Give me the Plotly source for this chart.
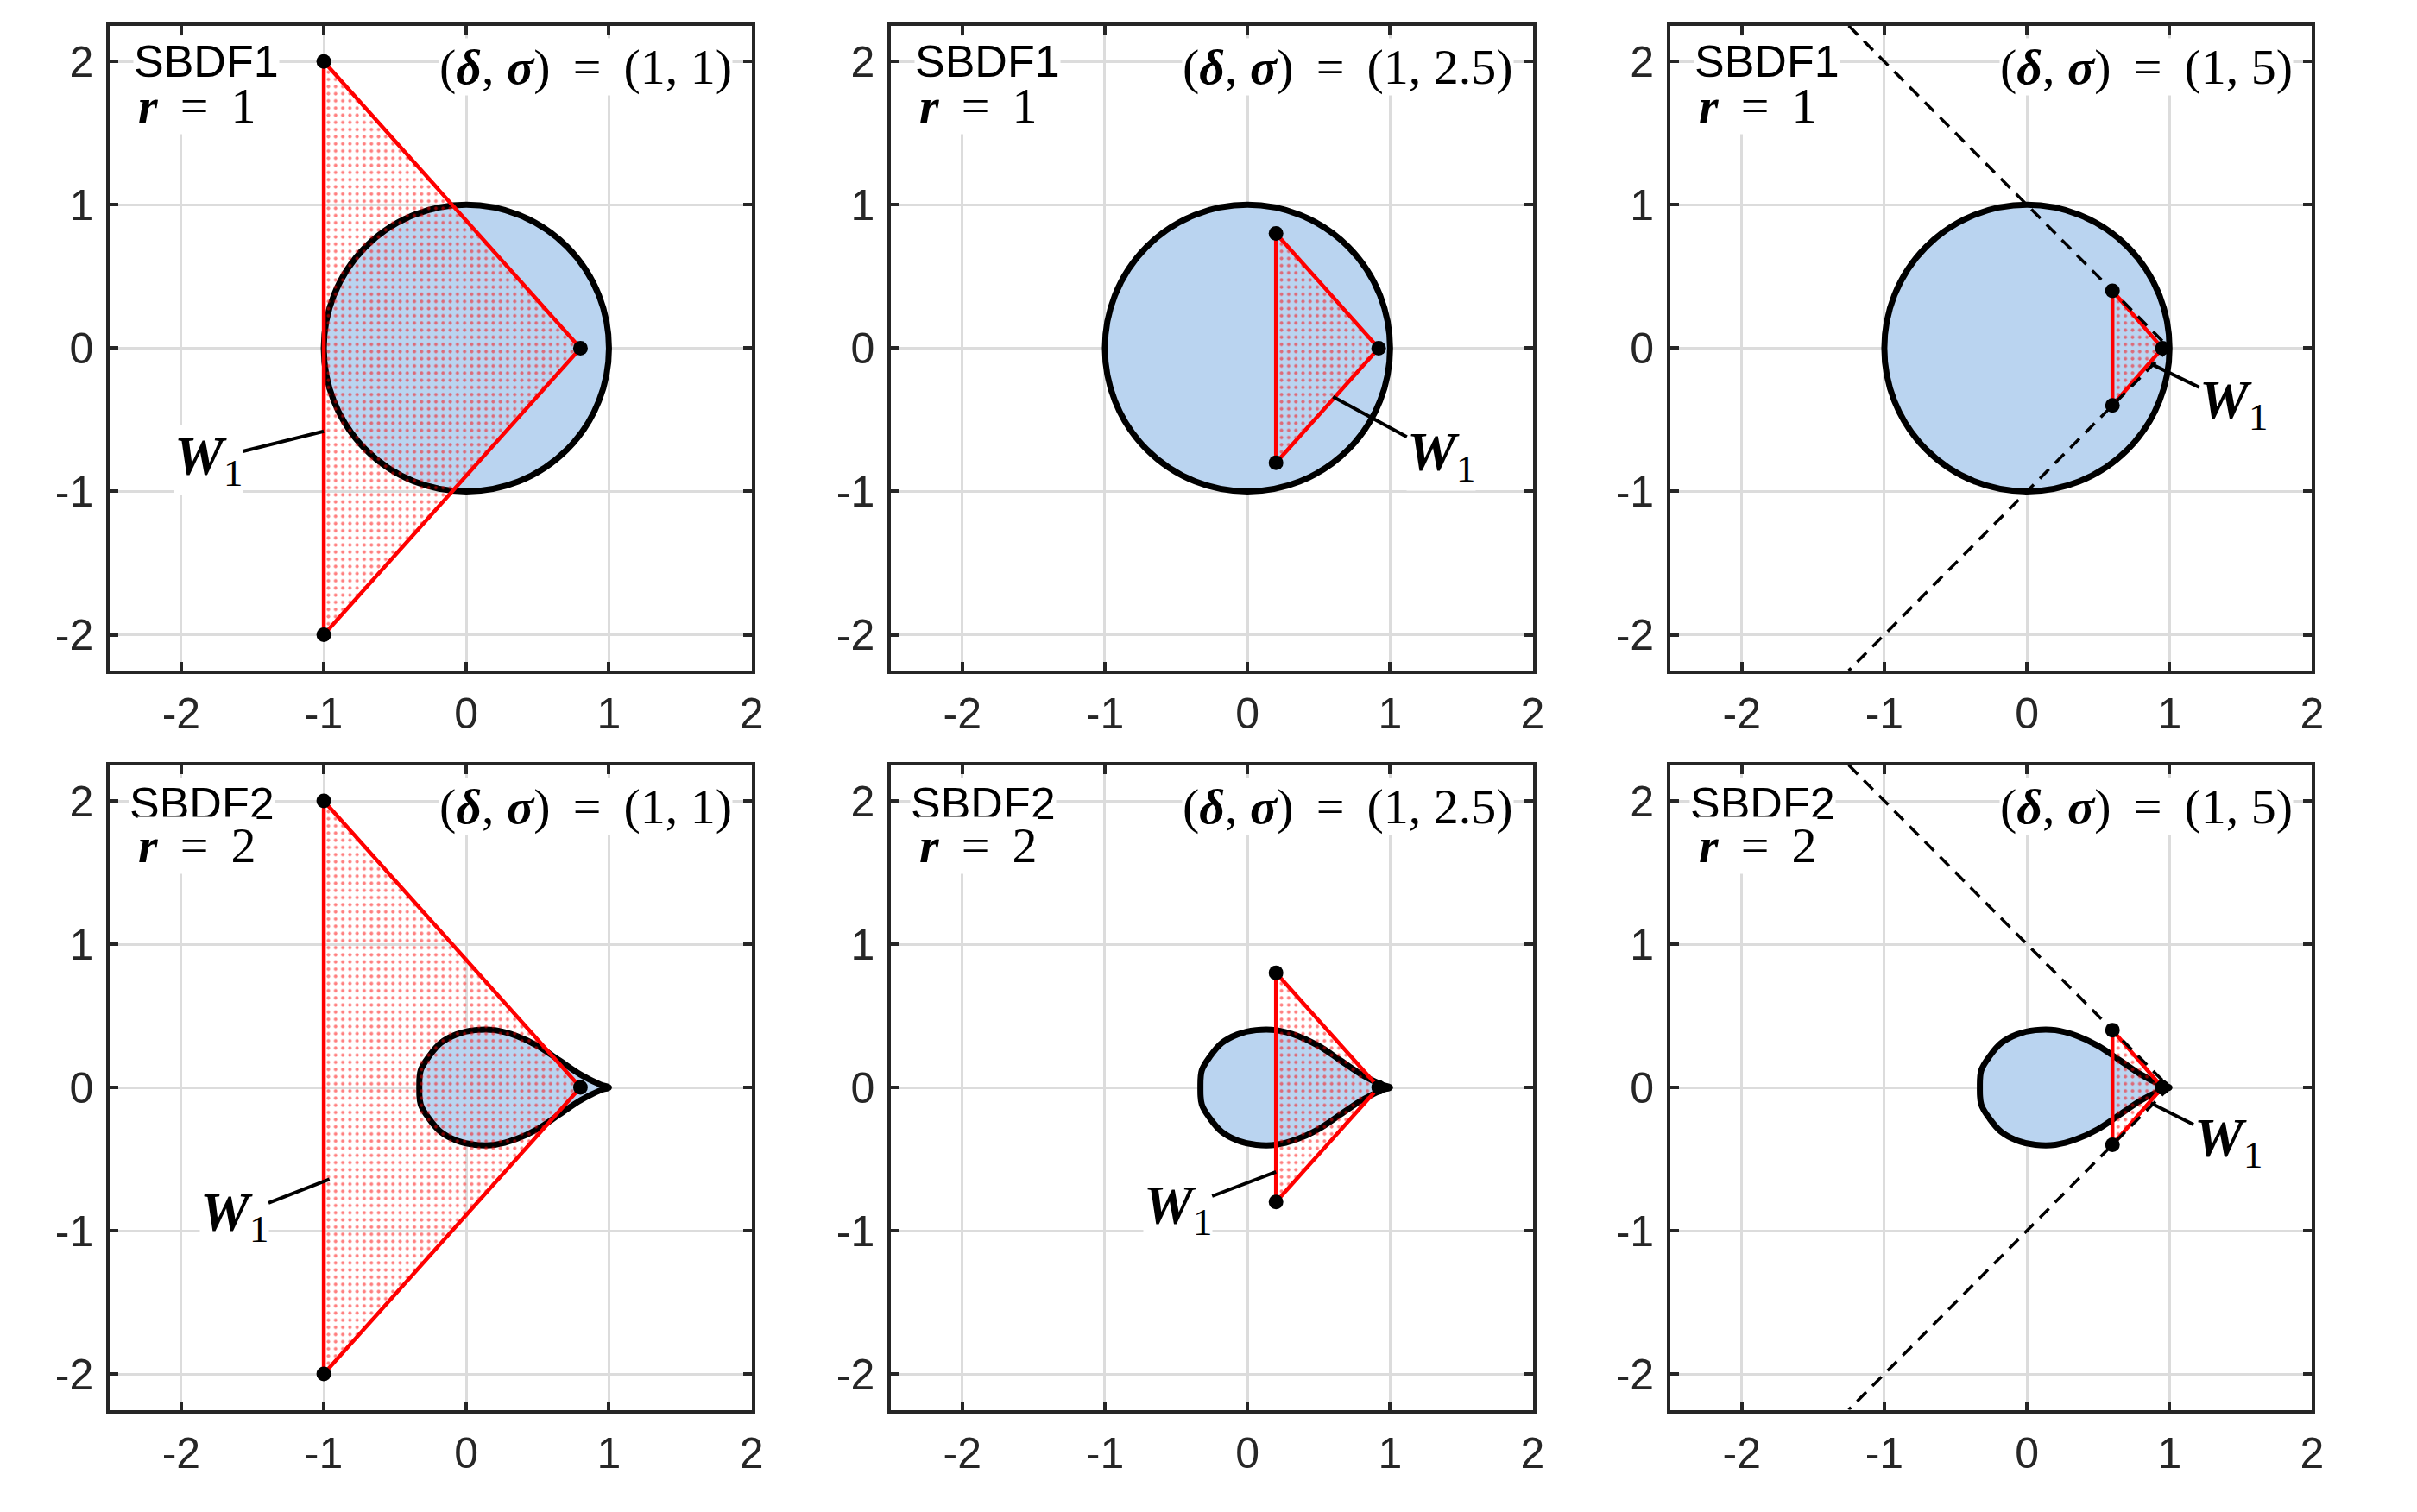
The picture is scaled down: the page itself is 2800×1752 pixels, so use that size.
import plotly.graph_objects as go
from plotly.subplots import make_subplots

# axes window and ticks
x_range = [-2.5, 2]
y_range = [-2.25, 2.25]
tick_vals = [-2, -1, 0, 1, 2]
tick_text = ["-2", "-1", "0", "1", "2"]

# rows: scheme name and order, columns: sigma
methods = ["SBDF1", "SBDF2"]
orders = ["1", "2"]
sigmas = ["1", "2.5", "5"]

# SBDF1 stability region: unit disc
disc_cx = 0
disc_cy = 0
disc_r = 1

# SBDF2 stability region (teardrop), upper half
drop_x = [1.0, 0.94, 0.80, 0.65, 0.50, 0.35, 0.20, 0.06, -0.07, -0.18, -0.26, -0.32, -0.33]
drop_y = [0.0, 0.02, 0.09, 0.19, 0.29, 0.36, 0.40, 0.40, 0.37, 0.31, 0.22, 0.12, 0.0]

# W1 triangle per column (top vertex, apex, bottom vertex)
tri_x = [[-1, 0.8, -1], [0.2, 0.92, 0.2], [0.6, 0.95, 0.6]]
tri_y = [[2, 0, -2], [0.8, 0, -0.8], [0.4, 0, -0.4]]

# dashed wedge in the sigma = 5 column
wedge_x = [-1.25, 1, -1.25]
wedge_y = [2.25, 0, -2.25]

# W1 leader: tip on the triangle, label position (panels in row order)
lead_tip_x = [-1.0, 0.60, 0.87, -0.96, 0.20, 0.87]
lead_tip_y = [-0.58, -0.34, -0.11, -0.64, -0.59, -0.11]
lead_lab_x = [-1.81, 1.36, 1.45, -1.63, -0.49, 1.41]
lead_lab_y = [-0.78, -0.75, -0.39, -0.90, -0.85, -0.38]

BLUE = "rgb(186,212,240)"
FRAME = "#262626"
SERIF = "Liberation Serif"
SANS = "Liberation Sans"
TS = "\u2009"  # thin space, wider math spacing

W, H = 2800, 1752
col_dom = [[0.0457, 0.3125], [0.3705, 0.6373], [0.6946, 0.9614]]
row_dom = [[0.5565, 0.9830], [0.0676, 0.4940]]

fig = make_subplots(rows=2, cols=3)

for r in range(2):
    for c in range(3):
        k = r * 3 + c
        xa = "x" if k == 0 else f"x{k + 1}"
        ya = "y" if k == 0 else f"y{k + 1}"

        # stability region
        if r == 0:
            fig.add_shape(
                type="circle",
                x0=disc_cx - disc_r, x1=disc_cx + disc_r,
                y0=disc_cy - disc_r, y1=disc_cy + disc_r,
                xref=xa, yref=ya,
                fillcolor=BLUE,
                line=dict(color="black", width=7),
                layer="between",
            )
        else:
            rx = drop_x + drop_x[::-1][1:]
            ry = drop_y + [-v for v in drop_y[::-1][1:]]
            fig.add_trace(
                go.Scatter(
                    x=rx, y=ry, mode="lines", fill="toself",
                    fillcolor=BLUE, line=dict(color="black", width=7, shape="spline", smoothing=1),
                    hoverinfo="skip",
                ),
                row=r + 1, col=c + 1,
            )

        # W1 triangle with dotted fill
        tx = tri_x[c] + [tri_x[c][0]]
        ty = tri_y[c] + [tri_y[c][0]]
        fig.add_trace(
            go.Scatter(
                x=tx, y=ty, mode="lines", fill="toself",
                fillcolor="rgba(0,0,0,0)",
                fillpattern=dict(shape=".", fgcolor="red", bgcolor="rgba(0,0,0,0)",
                                 size=8.3, solidity=0.18),
                line=dict(color="red", width=4.5),
                hoverinfo="skip",
            ),
            row=r + 1, col=c + 1,
        )

        if c == 2:
            fig.add_trace(
                go.Scatter(
                    x=wedge_x, y=wedge_y, mode="lines",
                    line=dict(color="black", width=3.5, dash="15px,10px"),
                    hoverinfo="skip",
                ),
                row=r + 1, col=c + 1,
            )

        fig.add_trace(
            go.Scatter(
                x=tri_x[c], y=tri_y[c], mode="markers",
                marker=dict(color="black", size=17),
                hoverinfo="skip",
            ),
            row=r + 1, col=c + 1,
        )

        # labels
        fig.add_annotation(
            x=-2.34 if r == 0 else -2.37, y=2.0 if r == 0 else 1.98,
            xref=xa, yref=ya, text=methods[r], showarrow=False,
            xanchor="left", yanchor="middle", bgcolor="white", borderpad=0,
            font=dict(family=SANS, size=52, color="black"),
        )
        fig.add_annotation(
            x=-2.31, y=1.69,
            xref=xa, yref=ya, text=f"<b><i>r</i></b> {TS}={TS} {orders[r]}", showarrow=False,
            xanchor="left", yanchor="middle", bgcolor="white", borderpad=0,
            font=dict(family=SERIF, size=58, color="black"),
        )
        fig.add_annotation(
            x=1.87, y=1.96,
            xref=xa, yref=ya,
            text=f"(<b><i>δ</i></b>, <b><i>σ</i></b>) {TS}={TS} (1, {sigmas[c]})",
            showarrow=False,
            xanchor="right", yanchor="middle", bgcolor="white", borderpad=0,
            font=dict(family=SERIF, size=58, color="black"),
        )
        fig.add_annotation(
            x=lead_tip_x[k], y=lead_tip_y[k],
            ax=lead_lab_x[k], ay=lead_lab_y[k],
            xref=xa, yref=ya, axref=xa, ayref=ya,
            text="<b><i>W</i></b><sub>1</sub>", showarrow=True,
            arrowhead=0, arrowwidth=4, arrowcolor="black",
            bgcolor="white", borderpad=0,
            font=dict(family=SERIF, size=64, color="black"),
        )

        fig.update_xaxes(
            range=x_range, domain=col_dom[c], row=r + 1, col=c + 1,
        )
        fig.update_yaxes(
            range=y_range, domain=row_dom[r], row=r + 1, col=c + 1,
        )

fig.update_xaxes(
    tickvals=tick_vals, ticktext=tick_text, showgrid=True, gridcolor="#DCDCDC", gridwidth=3,
    zeroline=False, showline=True, linecolor=FRAME, linewidth=4, mirror="ticks",
    ticks="inside", ticklen=10, tickwidth=4, tickcolor=FRAME, ticklabelstandoff=3,
    tickfont=dict(family=SANS, size=50, color=FRAME),
)
fig.update_yaxes(
    tickvals=tick_vals, ticktext=tick_text, showgrid=True, gridcolor="#DCDCDC", gridwidth=3,
    zeroline=False, showline=True, linecolor=FRAME, linewidth=4, mirror="ticks",
    ticks="inside", ticklen=10, tickwidth=4, tickcolor=FRAME, ticklabelstandoff=5,
    tickfont=dict(family=SANS, size=50, color=FRAME),
)

fig.update_layout(
    width=W, height=H,
    margin=dict(l=0, r=0, t=0, b=0),
    showlegend=False,
    plot_bgcolor="white", paper_bgcolor="white",
)

# drop the browser's default body margin so the figure fills the window exactly
fig.write_html(
    "out.html",
    config={"displayModeBar": False},
    post_script="document.body.style.margin='0';document.body.style.overflow='hidden';",
)
